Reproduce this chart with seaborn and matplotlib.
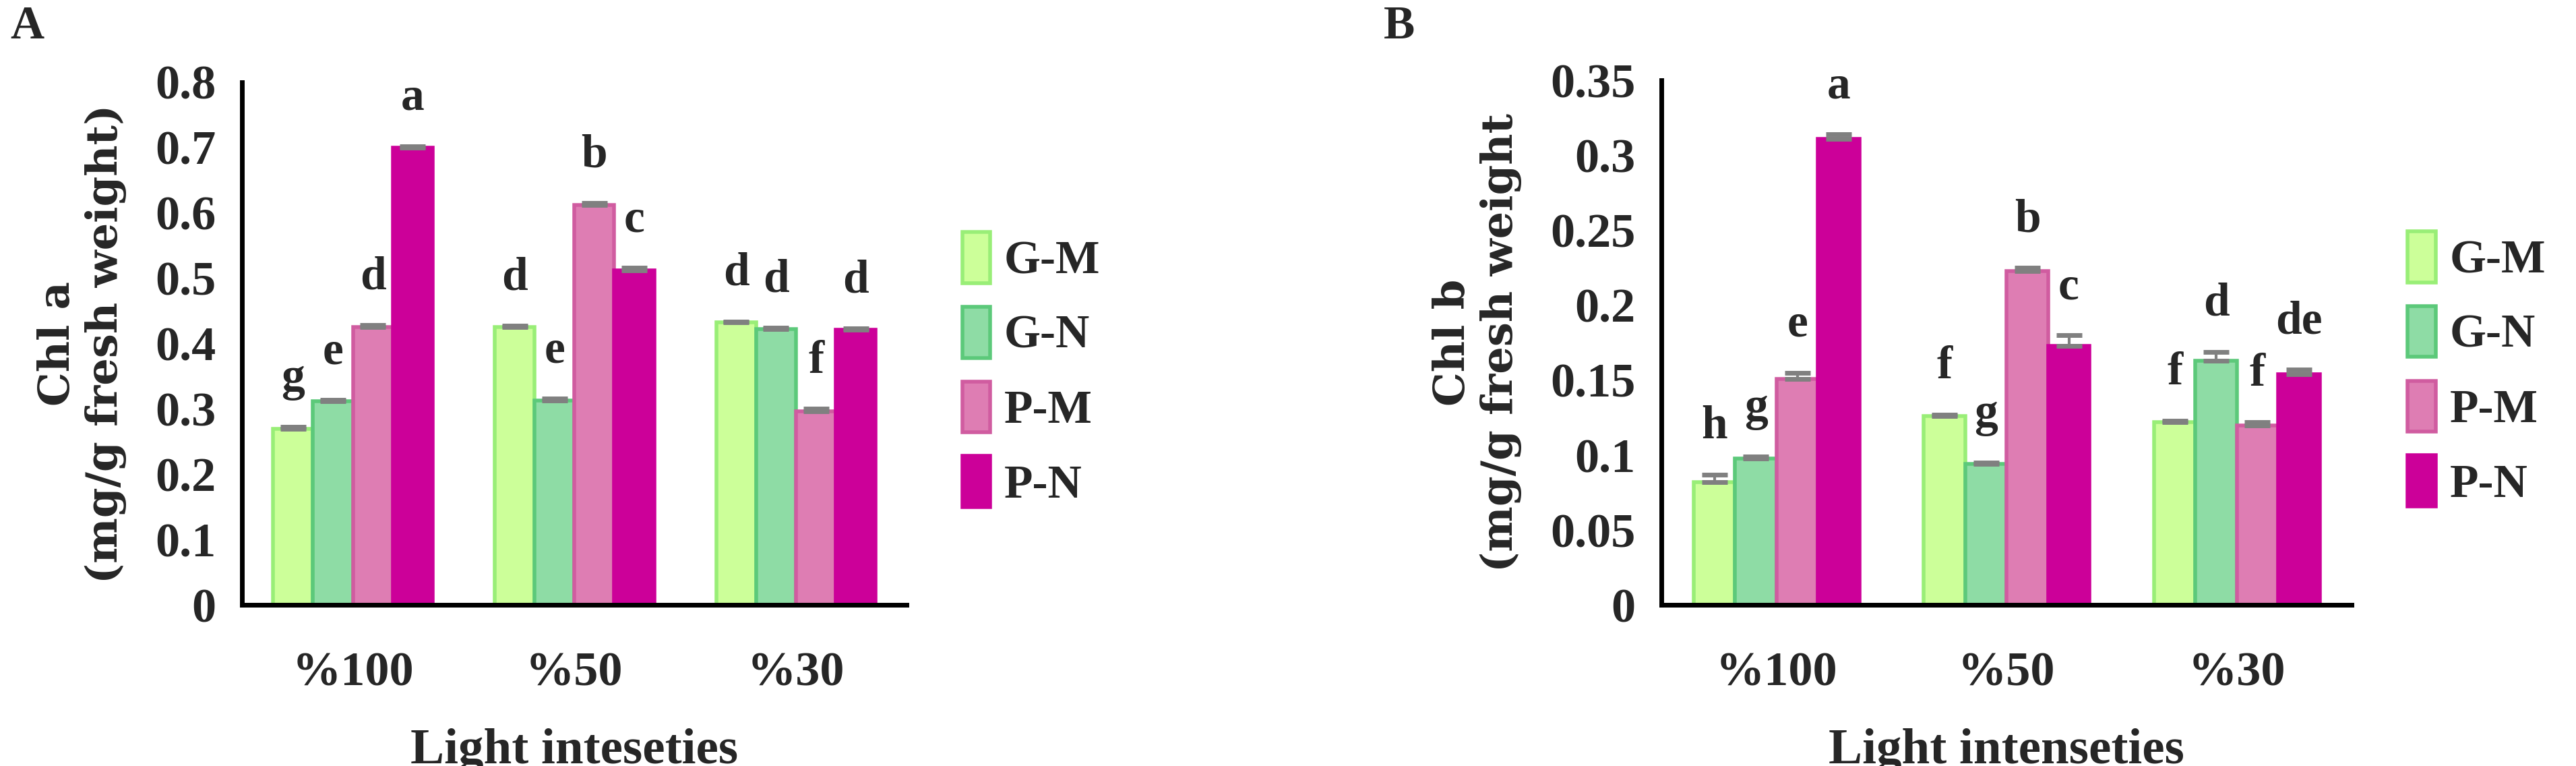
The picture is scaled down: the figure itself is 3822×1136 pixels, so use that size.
import matplotlib
matplotlib.use("Agg")
import matplotlib.pyplot as plt
import seaborn as sns
import pandas as pd
import numpy as np
from matplotlib.patches import Patch

categories = ["%100", "%50", "%30"]
groups = ["G-M", "G-N", "P-M", "P-N"]
chla = {"G-M": [0.270, 0.425, 0.432], "G-N": [0.312, 0.313, 0.422],
        "P-M": [0.425, 0.612, 0.296], "P-N": [0.700, 0.512, 0.421]}
chla_err = {"G-M": [0.003, 0.002, 0.002], "G-N": [0.002, 0.003, 0.002],
            "P-M": [0.003, 0.003, 0.004], "P-N": [0.002, 0.004, 0.002]}
chla_let = {"G-M": ["g", "d", "d"], "G-N": ["e", "e", "d"],
            "P-M": ["d", "b", "f"], "P-N": ["a", "c", "d"]}
chlb = {"G-M": [0.082, 0.126, 0.122], "G-N": [0.098, 0.094, 0.163],
        "P-M": [0.151, 0.223, 0.120], "P-N": [0.311, 0.173, 0.154]}
chlb_err = {"G-M": [0.005, 0.001, 0.001], "G-N": [0.001, 0.001, 0.006],
            "P-M": [0.004, 0.002, 0.002], "P-N": [0.003, 0.007, 0.003]}
chlb_let = {"G-M": ["h", "f", "f"], "G-N": ["g", "g", "d"],
            "P-M": ["e", "b", "f"], "P-N": ["a", "c", "de"]}

fills = {"G-M": "#CCFF99", "G-N": "#8EDCA5", "P-M": "#DE7DB3", "P-N": "#CC0099"}
edges = {"G-M": "#99EE77", "G-N": "#5CC97A", "P-M": "#D05CA0", "P-N": "#CC0099"}

sns.set_style("white")
plt.rcParams["font.family"] = ["Liberation Serif", "DejaVu Serif"]
plt.rcParams["font.weight"] = "bold"

fig = plt.figure(figsize=(38.22, 11.36), dpi=100)
axA = fig.add_axes([0.094, 0.21, 0.258, 0.683])
axB = fig.add_axes([0.645, 0.21, 0.268, 0.685])

def draw(ax, vals, errs, lets, ymax, step, ylabel, xlabel, yfmt):
    rows = []
    for g in groups:
        for c, v in zip(categories, vals[g]):
            rows.append({"cat": c, "grp": g, "val": v})
    df = pd.DataFrame(rows)
    sns.barplot(data=df, x="cat", y="val", hue="grp", order=categories,
                hue_order=groups, palette=fills, ax=ax, width=0.72,
                saturation=1, errorbar=None, legend=False)
    for gi, g in enumerate(groups):
        cont = ax.containers[gi]
        for ci, p in enumerate(cont.patches):
            p.set_edgecolor(edges[g]); p.set_linewidth(4)
            x = p.get_x() + p.get_width() / 2
            h = p.get_height()
            e = errs[g][ci]
            ax.errorbar([x], [h], yerr=[[0], [e]], fmt="none", ecolor="#808080",
                        elinewidth=3, capsize=14, capthick=5, zorder=5)
            ax.text(x, h + e + ymax * 0.05, lets[g][ci], ha="center", va="bottom",
                    fontsize=50, fontweight="bold")
    ax.set_ylim(0, ymax)
    ticks = np.arange(0, ymax + step / 2, step)
    ax.set_yticks(ticks)
    ax.set_yticklabels([yfmt(t) for t in ticks], fontsize=52, fontweight="bold")
    ax.set_xticks(range(3))
    ax.set_xticklabels(categories, fontsize=52, fontweight="bold")
    ax.tick_params(axis="both", length=0, pad=28)
    ax.tick_params(axis="x", pad=50)
    ax.set_xlim(-0.5, 2.5)
    for s in ["top", "right"]:
        ax.spines[s].set_visible(False)
    for s in ["left", "bottom"]:
        ax.spines[s].set_linewidth(5); ax.spines[s].set_color("black")
    ax.set_ylabel(ylabel, fontsize=46, fontweight="bold", labelpad=30,
                  family=["DejaVu Serif"])
    ax.set_xlabel(xlabel, fontsize=54, fontweight="bold", labelpad=35)
    ax.grid(False)

def fmt(t):
    s = ("%.2f" % t).rstrip("0").rstrip(".")
    return s if s else "0"

draw(axA, chla, chla_err, chla_let, 0.8, 0.1, "Chl a\n(mg/g fresh weight)",
     "Light inteseties", fmt)
draw(axB, chlb, chlb_err, chlb_let, 0.35, 0.05, "Chl b\n(mg/g fresh weight",
     "Light intenseties", fmt)

for ax in [axA, axB]:
    handles = [Patch(facecolor=fills[g], edgecolor=edges[g], linewidth=4, label=g)
               for g in groups]
    ax.legend(handles=handles, loc="center left", bbox_to_anchor=(1.02, 0.45),
              frameon=False, prop={"size": 50, "weight": "bold"},
              handlelength=0.6, handleheight=1.3, handletextpad=0.3,
              labelspacing=0.5)

fig.text(0.004, 0.95, "A", fontsize=50, fontweight="bold")
fig.text(0.537, 0.95, "B", fontsize=50, fontweight="bold")
fig.savefig("out.png", dpi=100, facecolor="white")
